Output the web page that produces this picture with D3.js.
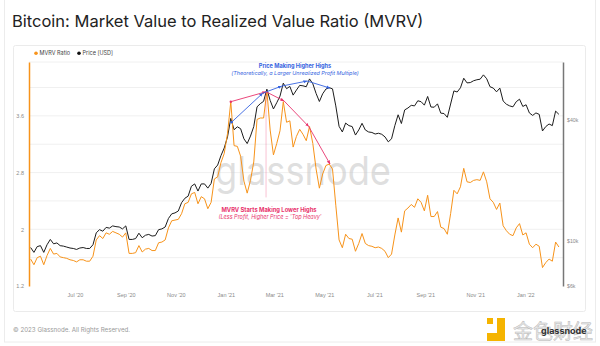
<!DOCTYPE html>
<html>
<head>
<meta charset="utf-8">
<script src="https://cdn.jsdelivr.net/npm/d3@7"></script>
<style>
    body { margin: 0; background: #fff; }
    svg { display: block; font-family: Inter, "Noto Sans", sans-serif; }
</style>
</head>
<body>
<div id="chart"></div>
<script>
// samples every 4 days, starting 2020-05-08
const START_DATE = '2020-05-08';
const STEP_DAYS = 4;

const mvrvValues = [
    1.58, 1.50, 1.60, 1.62, 1.50, 1.63, 1.73, 1.65, 1.66, 1.61,
    1.60, 1.59, 1.57, 1.56, 1.54, 1.57, 1.57, 1.55, 1.55, 1.62,
    1.85, 1.91, 1.87, 1.95, 1.93, 1.97, 1.95, 1.93, 1.89, 1.95,
    1.66, 1.66, 1.67, 1.77, 1.68, 1.72, 1.73, 1.70, 1.70, 1.81,
    1.82, 1.85, 2.02, 2.12, 2.13, 2.14, 2.22, 2.36, 2.38, 2.50,
    2.52, 2.36, 2.46, 2.43, 2.29, 2.38, 2.71, 2.74, 2.94, 3.07,
    3.35, 3.80, 3.18, 3.17, 3.03, 2.68, 2.51, 2.69, 2.95, 3.55,
    3.57, 3.57, 3.95, 3.40, 3.05, 3.21, 3.39, 3.80, 3.51, 3.53,
    3.16, 3.31, 3.41, 3.34, 3.25, 3.45, 3.21, 2.85, 2.58, 2.78,
    2.90, 2.92, 2.85, 2.34, 1.85, 1.74, 1.93, 1.87, 1.86, 1.69,
    1.80, 1.94, 1.80, 1.77, 1.76, 1.74, 1.75, 1.73, 1.69, 1.60,
    1.65, 1.92, 2.16, 1.96, 2.26, 2.30, 2.35, 2.31, 2.43, 2.38,
    2.26, 2.48, 2.18, 2.18, 2.25, 2.03, 2.01, 1.93, 2.22, 2.55,
    2.50, 2.60, 2.86, 2.67, 2.66, 2.69, 2.70, 2.69, 2.81, 2.67,
    2.43, 2.38, 2.28, 2.37, 2.05, 1.98, 1.93, 1.91, 2.02, 2.08,
    1.92, 1.95, 1.79, 1.74, 1.79, 1.76, 1.46, 1.53, 1.58, 1.55,
    1.82, 1.75
];

// price in thousands of USD
const priceValues = [
    9.3, 8.8, 9.4, 9.5, 8.8, 9.6, 10.2, 9.7, 9.8, 9.5,
    9.45, 9.35, 9.25, 9.2, 9.1, 9.25, 9.3, 9.2, 9.2, 9.6,
    11.0, 11.4, 11.2, 11.7, 11.6, 11.9, 11.8, 11.75, 11.5, 11.9,
    10.2, 10.2, 10.3, 10.95, 10.4, 10.7, 10.8, 10.6, 10.65, 11.4,
    11.5, 11.75, 12.95, 13.65, 13.8, 14.1, 15.5, 16.3, 16.7, 18.7,
    19.2, 17.7, 19.2, 19.2, 18.3, 19.3, 22.8, 23.8, 26.5, 28.9,
    32.8, 40.5, 35.6, 36.8, 36.0, 32.1, 30.4, 33.1, 36.9, 46.2,
    47.9, 49.2, 56.5, 49.7, 45.1, 48.4, 52.2, 60.5, 56.8, 58.3,
    52.8, 55.9, 59.0, 58.7, 58.1, 63.5, 60.1, 53.8, 49.1, 53.6,
    56.6, 57.5, 56.7, 46.7, 37.0, 34.7, 38.4, 37.3, 36.9, 33.5,
    35.5, 38.3, 35.5, 34.7, 34.5, 33.9, 34.2, 33.8, 32.8, 31.0,
    32.1, 37.3, 42.2, 38.2, 44.6, 45.6, 47.0, 46.7, 49.5, 49.0,
    47.1, 52.0, 46.1, 46.0, 47.8, 43.0, 42.8, 41.0, 47.7, 55.4,
    54.7, 57.4, 64.0, 60.7, 60.9, 62.2, 62.9, 63.3, 66.5, 63.6,
    58.1, 57.2, 54.8, 57.2, 49.4, 47.6, 46.7, 46.2, 49.0, 50.4,
    46.4, 47.3, 43.1, 41.9, 43.1, 42.4, 35.1, 36.9, 38.0, 37.3,
    44.0, 42.4
];

const monthTicks = ['2020-07-01', '2020-09-01', '2020-11-01', '2021-01-01', '2021-03-01',
    '2021-05-01', '2021-07-01', '2021-09-01', '2021-11-01', '2022-01-01'];
const mvrvTicks = [1.2, 2, 2.8, 3.6];
const mvrvGrid = [1.6, 2.0, 2.4, 2.8, 3.2, 3.6, 4.0];
const priceTicks = [6000, 10000, 40000];
const priceTickLabels = ['$6k', '$10k', '$40k'];

// hand-drawn annotation points
const mvrvHighs = [['2021-01-07', 3.80], ['2021-02-19', 3.94], ['2021-03-13', 3.81], ['2021-04-12', 3.45], ['2021-05-08', 2.92]];
const priceHighs = [['2021-01-08', 38800], ['2021-02-15', 54000], ['2021-03-10', 58500], ['2021-04-10', 62000], ['2021-05-08', 57200]];
const markerDate = '2021-02-19';

const ORANGE = '#f7931a';
const RED = '#e8336d';
const BLUE = '#3563e0';

class MvrvChart {
    constructor(element) {
        this.W = 600;
        this.H = 346;
        this.PLOT = { LEFT: 29, RIGHT: 563, TOP: 62, BOTTOM: 286 };

        const parse = d3.utcParse('%Y-%m-%d');
        const start = parse(START_DATE);
        this.data = mvrvValues.map((v, i) => ({
            date: d3.utcDay.offset(start, i * STEP_DAYS),
            mvrv: v,
            price: priceValues[i] * 1000
        }));

        this.svg = d3.select(element).append('svg')
            .attr('width', this.W)
            .attr('height', this.H);

        this.x = d3.scaleUtc()
            .domain([parse('2020-05-06'), parse('2022-02-16')])
            .range([this.PLOT.LEFT, this.PLOT.RIGHT]);
        this.yM = d3.scaleLinear()
            .domain([1.2, 4.36])
            .range([this.PLOT.BOTTOM, this.PLOT.TOP]);
        this.yP = d3.scaleLog()
            .domain([6000, 77000])
            .range([this.PLOT.BOTTOM, this.PLOT.TOP]);

        this.frame();
        this.axes();
        this.lines();
        this.annotations();
    }

    frame() {
        const svg = this.svg;
        svg.append('rect')
            .attr('x', 4.5).attr('y', -2)
            .attr('width', 591).attr('height', 344)
            .attr('fill', 'none').attr('stroke', '#ececec');

        svg.append('text')
            .attr('x', 12).attr('y', 27)
            .attr('font-size', 16.5)
            .attr('fill', '#222')
            .text('Bitcoin: Market Value to Realized Value Ratio (MVRV)');

        svg.append('rect')
            .attr('x', 13.5).attr('y', 45.5)
            .attr('width', 572).attr('height', 266)
            .attr('rx', 2)
            .attr('fill', '#fff').attr('stroke', '#ebebeb');

        // legend
        const legend = svg.append('g').attr('font-size', 5.5).attr('fill', '#444');
        [['MVRV Ratio', ORANGE, 36], ['Price [USD]', '#111', 79]].forEach(([label, c, lx]) => {
            legend.append('circle').attr('cx', lx).attr('cy', 53.3).attr('r', 1.8).attr('fill', c);
            legend.append('text').attr('x', lx + 3.5).attr('y', 55.3).text(label);
        });

        // footer
        svg.append('text')
            .attr('x', 13).attr('y', 332)
            .attr('font-size', 6.2)
            .attr('fill', '#999')
            .text('\u00a9 2023 Glassnode. All Rights Reserved.');

        const wm = svg.append('g');
        wm.append('rect').attr('x', 487).attr('y', 318).attr('width', 6).attr('height', 6).attr('fill', '#f5b400');
        wm.append('path').attr('d', 'M497,318h8v23h-18v-8h10z').attr('fill', '#f5b400');
        wm.append('text')
            .attr('x', 513).attr('y', 339)
            .attr('font-size', 20)
            .attr('font-family', '"Noto Sans CJK SC", sans-serif')
            .attr('fill', '#ececec').attr('stroke', '#b8b8b8').attr('stroke-width', 0.5)
            .text('金色财经');
        wm.append('text')
            .attr('x', 541).attr('y', 334)
            .attr('font-size', 9)
            .attr('font-weight', 700)
            .attr('fill', '#333')
            .text('glassnode');
    }

    axes() {
        const svg = this.svg, P = this.PLOT;

        svg.append('g').selectAll('line')
            .data(mvrvGrid)
            .join('line')
            .attr('x1', P.LEFT).attr('x2', P.RIGHT)
            .attr('y1', d => this.yM(d)).attr('y2', d => this.yM(d))
            .attr('stroke', '#f0f0f0');
        svg.append('line')
            .attr('x1', P.LEFT).attr('x2', P.RIGHT)
            .attr('y1', P.TOP).attr('y2', P.TOP)
            .attr('stroke', '#f0f0f0');

        // watermark
        svg.append('text')
            .attr('x', 215).attr('y', 185)
            .attr('font-size', 40)
            .attr('textLength', 176)
            .attr('lengthAdjust', 'spacingAndGlyphs')
            .attr('fill', '#c4c4c4')
            .attr('fill-opacity', 0.55)
            .text('glassnode');

        const xAxis = d3.axisBottom(this.x)
            .tickValues(monthTicks.map(d => d3.utcParse('%Y-%m-%d')(d)))
            .tickFormat(d3.utcFormat("%b '%y"))
            .tickSize(0).tickPadding(0);
        const gx = svg.append('g')
            .attr('transform', `translate(0, ${P.BOTTOM + 7})`)
            .call(xAxis);
        gx.select('.domain').remove();
        gx.selectAll('text').attr('font-size', 5.5).attr('fill', '#8a8a8a').attr('font-family', null);

        const yLeft = d3.axisLeft(this.yM).tickValues(mvrvTicks).tickFormat(d3.format('')).tickSize(0).tickPadding(5);
        const gl = svg.append('g').attr('transform', `translate(${P.LEFT}, 0)`).call(yLeft);
        gl.select('.domain').attr('stroke', ORANGE).attr('stroke-width', 1.5);
        gl.selectAll('text').attr('font-size', 5.5).attr('fill', '#8a8a8a').attr('font-family', null);

        const yRight = d3.axisRight(this.yP).tickValues(priceTicks)
            .tickFormat((d, i) => priceTickLabels[i]).tickSize(0).tickPadding(4);
        const gr = svg.append('g').attr('transform', `translate(${P.RIGHT}, 0)`).call(yRight);
        gr.select('.domain').attr('stroke', '#777').attr('stroke-width', 1.5);
        gr.selectAll('text').attr('font-size', 5.2).attr('fill', '#8a8a8a').attr('font-family', null);
    }

    lines() {
        const priceLine = d3.line().x(d => this.x(d.date)).y(d => this.yP(d.price));
        const mvrvLine = d3.line().x(d => this.x(d.date)).y(d => this.yM(d.mvrv));

        this.svg.append('path')
            .datum(this.data)
            .attr('d', priceLine)
            .attr('fill', 'none')
            .attr('stroke', '#1c1c1c')
            .attr('stroke-width', 1)
            .attr('stroke-linejoin', 'round');

        this.svg.append('path')
            .datum(this.data)
            .attr('d', mvrvLine)
            .attr('fill', 'none')
            .attr('stroke', ORANGE)
            .attr('stroke-width', 1)
            .attr('stroke-linejoin', 'round');
    }

    annotations() {
        const svg = this.svg;
        const parse = d3.utcParse('%Y-%m-%d');
        const defs = svg.append('defs');
        [['arrow-red', RED], ['arrow-blue', BLUE]].forEach(([id, c]) => {
            defs.append('marker')
                .attr('id', id)
                .attr('viewBox', '0 0 10 10')
                .attr('refX', 9).attr('refY', 5)
                .attr('markerWidth', 4.5).attr('markerHeight', 4.5)
                .attr('orient', 'auto')
                .append('path').attr('d', 'M0,1L10,5L0,9z').attr('fill', c);
        });

        // thin pink marker line at the Feb '21 high
        svg.append('line')
            .attr('x1', this.x(parse(markerDate))).attr('x2', this.x(parse(markerDate)))
            .attr('y1', this.yM(3.94)).attr('y2', this.yM(2.45))
            .attr('stroke', RED).attr('stroke-opacity', 0.5)
            .attr('stroke-width', 0.6);

        const redPts = mvrvHighs.map(([d, v]) => [this.x(parse(d)), this.yM(v)]);
        const bluePts = priceHighs.map(([d, v]) => [this.x(parse(d)), this.yP(v)]);

        [[redPts, RED, 'arrow-red'], [bluePts, BLUE, 'arrow-blue']].forEach(([pts, c, mk]) => {
            d3.pairs(pts).forEach(([a, b]) => {
                svg.append('line')
                    .attr('x1', a[0]).attr('y1', a[1])
                    .attr('x2', b[0]).attr('y2', b[1])
                    .attr('stroke', c).attr('stroke-width', 0.9)
                    .attr('marker-end', `url(#${mk})`);
            });
            svg.append('circle')
                .attr('cx', pts[0][0]).attr('cy', pts[0][1])
                .attr('r', 1.2).attr('fill', c);
        });

        const notes = [
            ['Price Making Higher Highs', 295, 68, BLUE, 700, 'normal', 5.6],
            ['(Theoretically, a Larger Unrealized Profit Multiple)', 295, 75, BLUE, 400, 'italic', 5.4],
            ['MVRV Starts Making Lower Highs', 269, 212, RED, 700, 'normal', 5.8],
            ["(Less Profit, Higher Price = 'Top Heavy'", 270, 219, RED, 400, 'italic', 5.5]
        ];
        svg.append('g').selectAll('text')
            .data(notes)
            .join('text')
            .attr('x', d => d[1]).attr('y', d => d[2])
            .attr('text-anchor', 'middle')
            .attr('fill', d => d[3])
            .attr('font-weight', d => d[4])
            .attr('font-style', d => d[5])
            .attr('font-size', d => d[6])
            .text(d => d[0]);
    }
}

new MvrvChart('#chart');
</script>
</body>
</html>
